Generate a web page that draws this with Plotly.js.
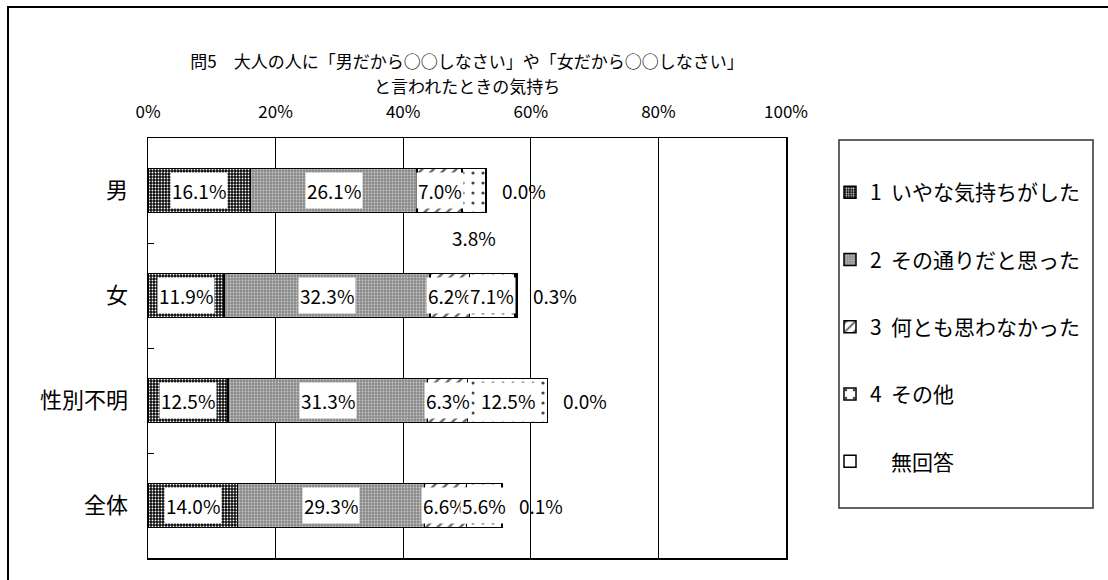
<!DOCTYPE html>
<html>
<head>
<meta charset="utf-8">
<script src="https://cdn.plot.ly/plotly-3.0.1.min.js"></script>
<style>
html,body{margin:0;padding:0;background:#fff;}
#chart{width:1108px;height:580px;}
</style>
</head>
<body>
<div id="chart"></div>
<script>
const categories = ['男', '女', '性別不明', '全体'];
const seriesNames = [
  '1\u00a0\u00a0いやな気持ちがした',
  '2\u00a0\u00a0その通りだと思った',
  '3\u00a0\u00a0何とも思わなかった',
  '4\u00a0\u00a0その他',
  '\u3000無回答'
];
const s1 = [16.1, 11.9, 12.5, 14.0];
const s2 = [26.1, 32.3, 31.3, 29.3];
const s3 = [7.0, 6.2, 6.3, 6.6];
const s4 = [3.8, 7.1, 12.5, 5.6];
const s5 = [0.0, 0.3, 0.0, 0.1];
const xTickVals = [0, 20, 40, 60, 80, 100];
const xTickText = ['0%', '20%', '40%', '60%', '80%', '100%'];
const titleLine1 = '問5\u3000大人の人に「男だから○○しなさい」や「女だから○○しなさい」';
const titleLine2 = 'と言われたときの気持ち';

const series = [s1, s2, s3, s4, s5];
const FONT = '"Noto Sans CJK JP", "Noto Sans", sans-serif';

const patterns = [
  {shape: '.', bgcolor: '#0a0a0a', fgcolor: '#ffffff', size: 3, solidity: 0.3},
  {shape: '.', bgcolor: '#8a8a8a', fgcolor: '#c8c8c8', size: 3, solidity: 0.3},
  {shape: '/', bgcolor: '#ffffff', fgcolor: '#666666', size: 8, solidity: 0.3},
  {shape: '.', bgcolor: '#ffffff', fgcolor: '#444444', size: 10, solidity: 0.08},
  {shape: '', bgcolor: '#ffffff', fgcolor: '#ffffff', size: 8, solidity: 0.3}
];

const traces = series.map((vals, i) => ({
  type: 'bar',
  orientation: 'h',
  name: seriesNames[i],
  legendgroup: 'g' + i,
  y: categories,
  x: vals,
  marker: {
    color: '#ffffff',
    pattern: patterns[i],
    line: {color: '#000000', width: 1.5}
  },
  hoverinfo: 'skip'
}));

const px = (p) => (p - 148) / 638;
const py = (p) => (558 - p) / 420;

const annotations = [];
categories.forEach((cat, ci) => {
  let cum = 0;
  series.forEach((vals, si) => {
    const v = vals[ci];
    if (si < 4) {
      const a = {
        x: cum + v / 2, y: cat, xref: 'x', yref: 'y',
        text: v.toFixed(1) + '%', showarrow: false,
        font: {family: FONT, size: 19, color: '#000'},
        bgcolor: '#ffffff', borderpad: 1, height: 33
      };
      if (si === 3 && ci === 0) {
        a.bgcolor = 'rgba(0,0,0,0)';
        a.yshift = -47;
      }
      annotations.push(a);
    } else {
      annotations.push({
        x: cum + v, y: cat, xref: 'x', yref: 'y',
        text: v.toFixed(1) + '%', showarrow: false,
        xanchor: 'left', xshift: 14,
        font: {family: FONT, size: 19, color: '#000'}
      });
    }
    cum += v;
  });
});

annotations.push({
  text: titleLine2, xref: 'paper', yref: 'paper', x: 0.5, y: py(85),
  xanchor: 'center', yanchor: 'middle', showarrow: false,
  font: {family: FONT, size: 17, color: '#000'}
});

const layout = {
  width: 1108, height: 580,
  margin: {l: 148, r: 322, t: 138, b: 22, pad: 0},
  paper_bgcolor: '#ffffff', plot_bgcolor: '#ffffff',
  barmode: 'stack', bargap: 0.58,
  font: {family: FONT, color: '#000'},
  title: {
    text: titleLine1, font: {family: FONT, size: 17, color: '#000'},
    xref: 'paper', x: 0.5, xanchor: 'center',
    yref: 'container', y: 1 - 62 / 580, yanchor: 'middle'
  },
  xaxis: {
    side: 'top', range: [0, 100], tickvals: xTickVals, ticktext: xTickText,
    showgrid: true, gridcolor: '#000', gridwidth: 1,
    showline: true, mirror: true, linecolor: '#000', linewidth: 1.5,
    zeroline: false, ticks: '', ticklabelstandoff: 12,
    tickfont: {family: FONT, size: 17, color: '#000'}, fixedrange: true
  },
  yaxis: {
    type: 'category', categoryorder: 'array', categoryarray: categories,
    autorange: false, range: [3.5, -0.5],
    showline: true, mirror: true, linecolor: '#000', linewidth: 1.5,
    showgrid: false, zeroline: false,
    ticks: 'inside', tickson: 'boundaries', ticklen: 6, tickcolor: '#000',
    ticklabelstandoff: 14,
    tickfont: {family: FONT, size: 22, color: '#000'}, fixedrange: true
  },
  showlegend: true,
  legend: {
    x: px(830), xanchor: 'left', y: py(172), yanchor: 'top',
    bgcolor: 'rgba(0,0,0,0)', borderwidth: 0,
    traceorder: 'grouped', tracegroupgap: 37,
    font: {family: FONT, size: 21, color: '#000'}
  },
  annotations: annotations,
  shapes: [
    {type: 'rect', xref: 'paper', yref: 'paper',
     x0: px(839), x1: px(1093), y0: py(508), y1: py(140),
     line: {color: '#333', width: 1.5}, fillcolor: 'rgba(0,0,0,0)'},
    {type: 'rect', xref: 'paper', yref: 'paper',
     x0: px(8), x1: px(1115), y0: py(590), y1: py(7),
     line: {color: '#000', width: 2}, fillcolor: 'rgba(0,0,0,0)'}
  ]
};

Plotly.newPlot('chart', traces, layout, {displayModeBar: false, staticPlot: true});
</script>
</body>
</html>
